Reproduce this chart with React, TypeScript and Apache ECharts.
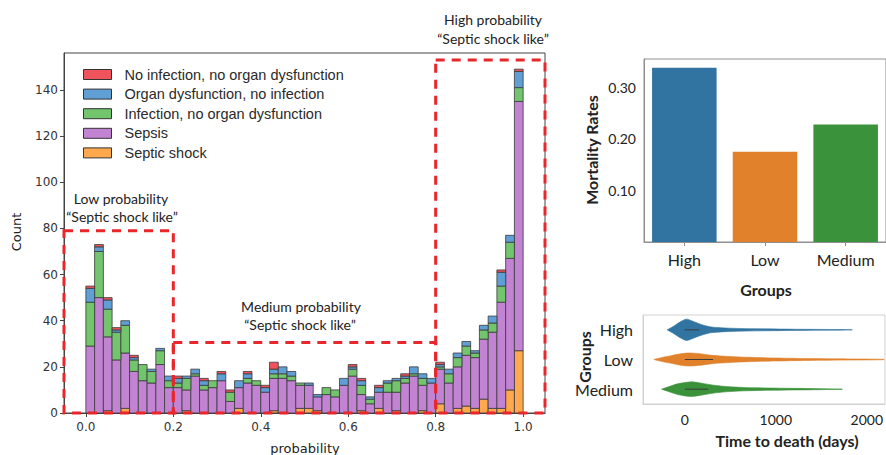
import React, { useEffect, useRef } from "react";
import * as echarts from "echarts";

// ---------- Histogram data (50 bins of width 0.02 on [0, 1]) ----------
const BIN_WIDTH = 0.02;
const noInfection = [1, 1, 1, 1, 0, 1, 0, 0, 0, 0, 1, 0, 0, 1, 0, 1, 1, 0, 1, 0, 1, 3, 0, 0, 0, 0, 0, 0, 0, 0, 1, 1, 0, 1, 0, 0, 1, 0, 0, 0, 1, 0, 0, 0, 0, 0, 0, 1, 0, 1];
const organDysfunction = [6, 2, 4, 1, 2, 1, 0, 1, 1, 2, 2, 1, 2, 2, 0, 3, 0, 3, 2, 0, 2, 2, 3, 2, 0, 1, 1, 0, 0, 3, 1, 2, 1, 2, 1, 1, 1, 3, 2, 2, 1, 2, 2, 2, 1, 2, 3, 6, 3, 7];
const infection = [19, 20, 12, 12, 12, 5, 7, 5, 6, 3, 2, 5, 1, 2, 3, 0, 4, 0, 2, 2, 0, 2, 2, 2, 1, 0, 0, 3, 3, 0, 3, 4, 2, 0, 4, 5, 2, 1, 3, 0, 1, 4, 4, 4, 2, 4, 4, 7, 7, 6];
const sepsis = [29, 50, 32, 23, 24, 18, 14, 13, 21, 11, 11, 9, 16, 10, 11, 14, 5, 9, 13, 12, 9, 14, 15, 14, 10, 10, 6, 8, 7, 12, 16, 7, 4, 7, 9, 8, 13, 16, 11, 13, 15, 13, 18, 22, 22, 26, 33, 46, 57, 108];
const septicShock = [0, 0, 1, 0, 2, 0, 0, 0, 0, 0, 0, 1, 0, 0, 0, 0, 0, 2, 0, 0, 0, 1, 0, 0, 2, 2, 1, 0, 0, 0, 0, 1, 0, 2, 0, 1, 0, 0, 1, 0, 4, 0, 2, 3, 2, 6, 2, 2, 10, 27];

const histNames = [
  "No infection, no organ dysfunction",
  "Organ dysfunction, no infection",
  "Infection, no organ dysfunction",
  "Sepsis",
  "Septic shock",
];
const histColors = ["#f0535b", "#609fd6", "#72c46d", "#c283d3", "#ffa84d"];
const histXTicks = [0, 0.2, 0.4, 0.6, 0.8, 1.0];
const histYTicks = [0, 20, 40, 60, 80, 100, 120, 140];

// dashed group boxes (probability ranges and heights in counts)
const boxLeft = [-0.05, 0.2, 0.8];
const boxRight = [0.2, 0.8, 1.05];
const boxTop = [79, 30.5, 153];

// ---------- Mortality bar chart ----------
const groups = ["High", "Low", "Medium"];
const mortalityRates = [0.338, 0.175, 0.228];
const groupColors = ["#3274a1", "#e1812c", "#3a923a"];
const mortalityTicks = [0.1, 0.2, 0.3];

// ---------- Violin: [time (days), half width as fraction of band] ----------
const violinHigh = [
  [-195, 0], [-120, 0.13], [-50, 0.27], [18, 0.36], [80, 0.3], [164, 0.2], [250, 0.12], [310, 0.09],
  [492, 0.055], [856, 0.033], [1220, 0.02], [1600, 0.012], [1840, 0.004],
];
const violinLow = [
  [-340, 0], [-250, 0.07], [-150, 0.13], [-50, 0.19], [40, 0.22], [150, 0.2], [300, 0.14], [500, 0.1],
  [700, 0.073], [1000, 0.05], [1400, 0.03], [1800, 0.02], [2190, 0.008],
];
const violinMedium = [
  [-256, 0], [-180, 0.08], [-80, 0.18], [55, 0.245], [150, 0.22], [300, 0.14], [450, 0.09], [650, 0.057],
  [900, 0.04], [1200, 0.027], [1500, 0.017], [1730, 0.005],
];
const violinProfiles = [violinHigh, violinLow, violinMedium];
const violinIQR = [
  [0, 160],
  [0, 310],
  [0, 256],
];
const timeTicks = [0, 1000, 2000];

export default function App() {
  const ref = useRef<HTMLDivElement>(null);

  useEffect(() => {
    document.body.style.margin = "0";
    if (!ref.current) return;
    const chart = echarts.init(ref.current, undefined, { renderer: "svg" });

    const layers = [septicShock, sepsis, infection, organDysfunction, noInfection];
    const layerNames = [histNames[4], histNames[3], histNames[2], histNames[1], histNames[0]];
    const layerColors = [histColors[4], histColors[3], histColors[2], histColors[1], histColors[0]];
    const base = new Array(septicShock.length).fill(0);
    const histSeries: any[] = layers.map((vals, k) => {
      const data = vals.map((v, i) => {
        const item = [i * BIN_WIDTH, (i + 1) * BIN_WIDTH, base[i], base[i] + v];
        base[i] += v;
        return item;
      });
      const color = layerColors[k];
      return {
        type: "custom",
        name: layerNames[k],
        xAxisIndex: 0,
        yAxisIndex: 0,
        itemStyle: { color },
        color,
        encode: { x: [0, 1], y: [2, 3] },
        data,
        renderItem: (params: any, api: any) => {
          const y0 = api.value(2);
          const y1 = api.value(3);
          if (y1 - y0 <= 0) return null;
          const p0 = api.coord([api.value(0), y0]);
          const p1 = api.coord([api.value(1), y1]);
          return {
            type: "rect",
            shape: { x: p0[0], y: p1[1], width: p1[0] - p0[0], height: p0[1] - p1[1] },
            style: { fill: color, stroke: "#3a3a3a", lineWidth: 0.8 },
          };
        },
      };
    });

    const boxSeries = {
      type: "custom",
      name: "boxes",
      xAxisIndex: 0,
      yAxisIndex: 0,
      silent: true,
      z: 5,
      clip: false,
      encode: { x: [0, 1], y: [2, 3] },
      data: boxLeft.map((l, i) => [l, boxRight[i], 0, boxTop[i]]),
      renderItem: (params: any, api: any) => {
        const p0 = api.coord([api.value(0), api.value(2)]);
        const p1 = api.coord([api.value(1), api.value(3)]);
        return {
          type: "rect",
          shape: { x: p0[0], y: p1[1], width: p1[0] - p0[0], height: p0[1] - p1[1] },
          style: { fill: "none", stroke: "#e8262b", lineWidth: 3, lineDash: [9, 7] },
        };
      },
    };

    const violinSeries = {
      type: "custom",
      name: "violin",
      xAxisIndex: 2,
      yAxisIndex: 2,
      silent: true,
      encode: { x: 0, y: 1 },
      data: groups.map((g, i) => [0, i]),
      renderItem: (params: any, api: any) => {
        const i = params.dataIndex;
        const prof = violinProfiles[i];
        const band = api.size([0, 1])[1];
        const top = prof.map(([t, w]) => {
          const c = api.coord([t, i]);
          return [c[0], c[1] - w * band];
        });
        const bot = prof
          .slice()
          .reverse()
          .map(([t, w]) => {
            const c = api.coord([t, i]);
            return [c[0], c[1] + w * band];
          });
        const a = api.coord([violinIQR[i][0], i]);
        const b = api.coord([violinIQR[i][1], i]);
        return {
          type: "group",
          children: [
            {
              type: "polygon",
              shape: { points: top.concat(bot), smooth: 0.3 },
              style: { fill: groupColors[i], stroke: groupColors[i], lineWidth: 0.6 },
            },
            {
              type: "line",
              shape: { x1: a[0], y1: a[1], x2: b[0], y2: b[1] },
              style: { stroke: "#3c3c3c", lineWidth: 1 },
            },
          ],
        };
      },
    };

    const calib = "Lato";
    const txt = (text: string, x: number, y: number, font: string, rot = 0) => ({
      type: "text",
      x,
      y,
      rotation: rot,
      silent: true,
      style: {
        text,
        font,
        fill: "#222",
        textAlign: "center",
        textVerticalAlign: "middle",
        align: "center",
        verticalAlign: "middle",
      },
    });

    const option: any = {
      animation: false,
      backgroundColor: "#ffffff",
      grid: [
        { left: 64, top: 53, width: 481, height: 360, show: true, borderColor: "#444", borderWidth: 1, backgroundColor: "transparent" },
        { left: 644, top: 59, width: 244, height: 183, show: true, borderColor: "#8f8f8f", borderWidth: 1, backgroundColor: "transparent" },
        { left: 643, top: 315, width: 243, height: 89, show: true, borderColor: "#d2d2d2", borderWidth: 1, backgroundColor: "transparent" },
      ],
      xAxis: [
        {
          type: "value",
          gridIndex: 0,
          min: -0.05,
          max: 1.05,
          axisLine: { show: true, onZero: false, lineStyle: { color: "#444" } },
          axisTick: { show: true, length: 4, customValues: histXTicks, lineStyle: { color: "#444" } },
          axisLabel: {
            customValues: histXTicks,
            formatter: (v: number) => v.toFixed(1),
            fontFamily: "DejaVu Sans",
            fontSize: 12,
            color: "#333",
            margin: 8,
          },
          splitLine: { show: false },
        },
        {
          type: "category",
          gridIndex: 1,
          data: groups,
          axisLine: { show: true, onZero: false, lineStyle: { color: "#8f8f8f" } },
          axisTick: { show: true, alignWithLabel: true, length: 4, lineStyle: { color: "#8f8f8f" } },
          axisLabel: { fontFamily: calib, fontSize: 16, color: "#222", margin: 9 },
        },
        {
          type: "value",
          gridIndex: 2,
          min: -460,
          max: 2200,
          axisLine: { show: true, onZero: false, lineStyle: { color: "#d2d2d2" } },
          axisTick: { show: false },
          axisLabel: {
            customValues: timeTicks,
            formatter: (v: number) => String(v),
            fontFamily: calib,
            fontSize: 14,
            color: "#222",
            margin: 8,
          },
          splitLine: { show: false },
        },
      ],
      yAxis: [
        {
          type: "value",
          gridIndex: 0,
          min: 0,
          max: 156,
          axisLine: { show: true, onZero: false, lineStyle: { color: "#444" } },
          axisTick: { show: true, length: 4, customValues: histYTicks, lineStyle: { color: "#444" } },
          axisLabel: { customValues: histYTicks, fontFamily: "DejaVu Sans", fontSize: 12, color: "#333", margin: 6 },
          splitLine: { show: false },
        },
        {
          type: "value",
          gridIndex: 1,
          min: 0,
          max: 0.355,
          axisLine: { show: true, onZero: false, lineStyle: { color: "#8f8f8f" } },
          axisTick: { show: false },
          axisLabel: {
            customValues: mortalityTicks,
            formatter: (v: number) => v.toFixed(2),
            fontFamily: calib,
            fontSize: 14,
            color: "#222",
            margin: 8,
          },
          splitLine: { show: false },
        },
        {
          type: "category",
          gridIndex: 2,
          data: groups,
          inverse: true,
          axisLine: { show: true, onZero: false, lineStyle: { color: "#d2d2d2" } },
          axisTick: { show: false },
          axisLabel: { fontFamily: calib, fontSize: 16, color: "#222", margin: 10 },
        },
      ],
      legend: {
        data: histNames,
        orient: "vertical",
        left: 78,
        top: 62,
        icon: "rect",
        itemWidth: 28,
        itemHeight: 10,
        itemGap: 4.6,
        selectedMode: false,
        itemStyle: { borderColor: "#333", borderWidth: 1 },
        textStyle: { fontFamily: "Liberation Sans", fontSize: 14.5, lineHeight: 15, color: "#2a2a2a", padding: [0, 0, 0, 8] },
      },
      series: [
        ...histSeries,
        boxSeries,
        {
          type: "bar",
          xAxisIndex: 1,
          yAxisIndex: 1,
          barWidth: "80%",
          silent: true,
          data: mortalityRates.map((v, i) => ({ value: v, itemStyle: { color: groupColors[i] } })),
        },
        violinSeries,
      ],
      graphic: [
        txt("Low probability", 121, 198, `14px ${calib}`),
        txt("\u201cSeptic shock like\u201d", 122, 216, `14px ${calib}`),
        txt("Medium probability", 301, 306, `14px ${calib}`),
        txt("\u201cSeptic shock like\u201d", 300, 324, `14px ${calib}`),
        txt("High probability", 493, 19, `14px ${calib}`),
        txt("\u201cSeptic shock like\u201d", 493, 38, `14px ${calib}`),
        txt("Count", 16, 232, "13px 'DejaVu Sans'", Math.PI / 2),
        txt("probability", 305, 448, "13px 'DejaVu Sans'"),
        txt("Mortality Rates", 591, 150, `bold 16px ${calib}`, Math.PI / 2),
        txt("Groups", 766, 289, `bold 16px ${calib}`),
        txt("Groups", 584, 357, `bold 16px ${calib}`, Math.PI / 2),
        txt("Time to death (days)", 787, 440, `bold 16px ${calib}`),
      ],
    };

    chart.setOption(option);
    return () => chart.dispose();
  }, []);

  return <div ref={ref} style={{ width: 886, height: 455 }} />;
}
